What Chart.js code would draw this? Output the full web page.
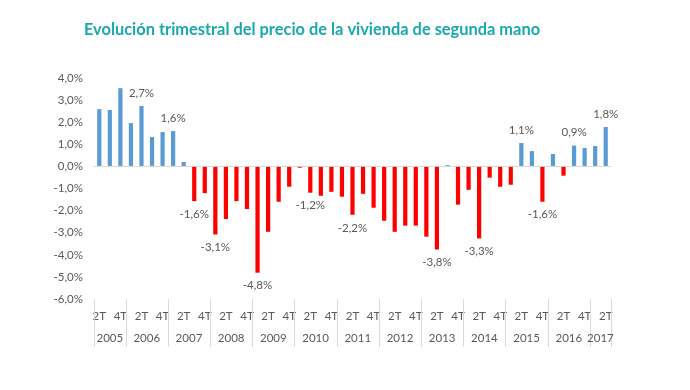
<!DOCTYPE html>
<html lang="es">
<head>
<meta charset="utf-8">
<title>Evolución trimestral del precio de la vivienda de segunda mano</title>
<script src="https://cdn.jsdelivr.net/npm/chart.js@4.4.1/dist/chart.umd.min.js"></script>
<style>
    html, body { margin: 0; padding: 0; background: #fff; }
    #wrap { width: 690px; height: 390px; }
</style>
</head>
<body>
<div id="wrap"><canvas id="precioChart" width="690" height="390"></canvas></div>
<script>
// Trimestres: 2005 2T ... 2017 2T
const titulo = 'Evolución trimestral del precio de la vivienda de segunda mano';
const years = [2005, 2006, 2007, 2008, 2009, 2010, 2011, 2012, 2013, 2014, 2015, 2016, 2017];
const quarters = [
    '2005-2T', '2005-3T', '2005-4T',
    '2006-1T', '2006-2T', '2006-3T', '2006-4T',
    '2007-1T', '2007-2T', '2007-3T', '2007-4T',
    '2008-1T', '2008-2T', '2008-3T', '2008-4T',
    '2009-1T', '2009-2T', '2009-3T', '2009-4T',
    '2010-1T', '2010-2T', '2010-3T', '2010-4T',
    '2011-1T', '2011-2T', '2011-3T', '2011-4T',
    '2012-1T', '2012-2T', '2012-3T', '2012-4T',
    '2013-1T', '2013-2T', '2013-3T', '2013-4T',
    '2014-1T', '2014-2T', '2014-3T', '2014-4T',
    '2015-1T', '2015-2T', '2015-3T', '2015-4T',
    '2016-1T', '2016-2T', '2016-3T', '2016-4T',
    '2017-1T', '2017-2T'
];

// Variación trimestral (%)
const variacion = [
    2.59, 2.55, 3.54,
    1.96, 2.73, 1.33, 1.55,
    1.60, 0.20, -1.57, -1.21,
    -3.08, -2.38, -1.57, -1.93,
    -4.81, -2.96, -1.60, -0.92,
    -0.06, -1.19, -1.33, -1.15,
    -1.37, -2.19, -1.24, -1.87,
    -2.46, -2.96, -2.68, -2.68,
    -3.18, -3.76, 0.06, -1.73,
    -1.06, -3.26, -0.51, -0.92,
    -0.83, 1.06, 0.69, -1.60,
    0.56, -0.42, 0.94, 0.83,
    0.92, 1.78
];

// Etiquetas que se muestran sobre algunas barras
const etiquetas = [
    null, null, null,
    null, '2,7%', null, null,
    '1,6%', null, '-1,6%', null,
    '-3,1%', null, null, null,
    '-4,8%', null, null, null,
    null, '-1,2%', null, null,
    null, '-2,2%', null, null,
    null, null, null, null,
    null, '-3,8%', null, null,
    null, '-3,3%', null, null,
    null, '1,1%', null, '-1,6%',
    null, null, '0,9%', null,
    null, '1,8%'
];

const yTicks = [4, 3, 2, 1, 0, -1, -2, -3, -4, -5, -6];

const COLOR_POS = '#5B9BD5';
const COLOR_NEG = '#FF0000';
const COLOR_TEXT = '#595959';
const COLOR_LINE = '#D9D9D9';
const COLOR_TITLE = '#1AA8B0';
const FONT = 'Lato, "Open Sans", sans-serif';

// Título (centrado un poco a la izquierda, como en el original)
const titlePlugin = {
    id: 'tituloGrafico',
    afterDraw(chart) {
        const { ctx } = chart;
        ctx.save();
        ctx.font = 'bold 16.4px ' + FONT;
        ctx.fillStyle = COLOR_TITLE;
        ctx.textAlign = 'center';
        ctx.textBaseline = 'middle';
        ctx.fillText(titulo, 312, 30);
        ctx.restore();
    }
};

// Etiquetas de datos sobre/bajo la barra
const dataLabelsPlugin = {
    id: 'dataLabels',
    afterDatasetsDraw(chart) {
        const { ctx } = chart;
        const meta = chart.getDatasetMeta(0);
        ctx.save();
        ctx.font = '11.5px ' + FONT;
        ctx.fillStyle = COLOR_TEXT;
        ctx.textAlign = 'center';
        ctx.textBaseline = 'middle';
        meta.data.forEach((bar, i) => {
            if (!etiquetas[i]) return;
            const off = variacion[i] >= 0 ? -13 : 13;
            ctx.fillText(etiquetas[i], bar.x, bar.y + off);
        });
        ctx.restore();
    }
};

// Fila de años y separadores bajo el eje X
const yearAxisPlugin = {
    id: 'yearAxis',
    afterDraw(chart) {
        const { ctx } = chart;
        const x = chart.scales.x;
        const half = (x.getPixelForValue(1) - x.getPixelForValue(0)) / 2;
        const top = chart.chartArea.bottom;
        const bottom = top + 48;
        ctx.save();
        ctx.strokeStyle = COLOR_LINE;
        ctx.lineWidth = 1;
        ctx.font = '11.5px ' + FONT;
        ctx.fillStyle = COLOR_TEXT;
        ctx.textAlign = 'center';
        ctx.textBaseline = 'middle';

        years.forEach(year => {
            const idx = quarters.map((q, i) => q.startsWith(year + '-') ? i : -1).filter(i => i >= 0);
            const left = x.getPixelForValue(idx[0]) - half;
            const right = x.getPixelForValue(idx[idx.length - 1]) + half;
            [left, right].forEach(px => {
                const p = Math.round(px) + 0.5;
                ctx.beginPath();
                ctx.moveTo(p, top);
                ctx.lineTo(p, bottom);
                ctx.stroke();
            });
            ctx.fillText(String(year), (left + right) / 2, top + 39);
        });
        ctx.restore();
    }
};

const ctx = document.getElementById('precioChart').getContext('2d');
new Chart(ctx, {
    type: 'bar',
    data: {
        labels: quarters,
        datasets: [{
            label: 'Variación trimestral',
            data: variacion,
            backgroundColor: variacion.map(v => v >= 0 ? COLOR_POS : COLOR_NEG),
            barPercentage: 0.4,
            categoryPercentage: 1.0
        }]
    },
    options: {
        responsive: false,
        animation: false,
        layout: { padding: { left: 40, right: 79, top: 78, bottom: 0 } },
        scales: {
            x: {
                grid: { display: false },
                border: { display: false },
                afterFit: scale => { scale.height = 91; },
                ticks: {
                    autoSkip: false,
                    maxRotation: 0,
                    padding: 2,
                    color: COLOR_TEXT,
                    font: { family: FONT, size: 11.5 },
                    callback: function (value) {
                        const q = quarters[value].split('-')[1];
                        return (q === '2T' || q === '4T') ? q : '';
                    }
                }
            },
            y: {
                min: -6,
                max: 4,
                afterFit: scale => { scale.width = 54; },
                afterBuildTicks: scale => { scale.ticks = yTicks.map(v => ({ value: v })); },
                border: { display: false },
                grid: {
                    drawTicks: false,
                    color: c => c.tick.value === 0 ? COLOR_LINE : 'transparent'
                },
                ticks: {
                    padding: 11,
                    color: COLOR_TEXT,
                    font: { family: FONT, size: 11.5 },
                    callback: v => v.toFixed(1).replace('.', ',') + '%'
                }
            }
        },
        plugins: {
            legend: { display: false },
            tooltip: { enabled: false },
            title: { display: false }
        }
    },
    plugins: [dataLabelsPlugin, yearAxisPlugin, titlePlugin]
});
</script>
</body>
</html>
